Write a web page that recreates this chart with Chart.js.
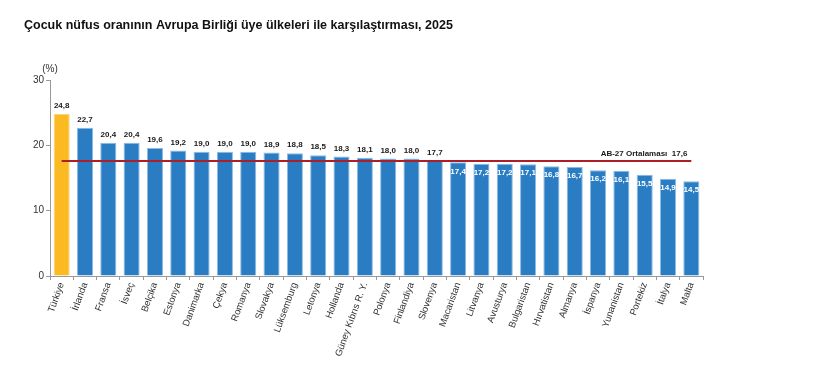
<!DOCTYPE html>
<html lang="tr">
<head>
<meta charset="utf-8">
<title>Çocuk nüfus oranı</title>
<script src="https://cdn.jsdelivr.net/npm/chart.js@4/dist/chart.umd.min.js"></script>
<style>
  html, body { margin: 0; padding: 0; background: #fff; }
  canvas { display: block; }
</style>
</head>
<body>
<canvas id="chart" width="838" height="372"></canvas>
<script>
// ülkeler ve çocuk nüfus oranları (%)
const countries = ['Türkiye', 'İrlanda', 'Fransa', 'İsveç', 'Belçika', 'Estonya', 'Danimarka', 'Çekya',
  'Romanya', 'Slovakya', 'Lüksemburg', 'Letonya', 'Hollanda', 'Güney Kıbrıs R. Y.', 'Polonya', 'Finlandiya',
  'Slovenya', 'Macaristan', 'Litvanya', 'Avusturya', 'Bulgaristan', 'Hırvatistan', 'Almanya', 'İspanya',
  'Yunanistan', 'Portekiz', 'İtalya', 'Malta'];
const shares = [24.8, 22.7, 20.4, 20.4, 19.6, 19.2, 19.0, 19.0, 19.0, 18.9, 18.8, 18.5, 18.3, 18.1, 18.0, 18.0,
  17.7, 17.4, 17.2, 17.2, 17.1, 16.8, 16.7, 16.2, 16.1, 15.5, 14.9, 14.5];
const euAverage = 17.6;
const averageLabel = 'AB-27 Ortalaması';
const yTicks = [0, 10, 20, 30];
const unitLabel = '(%)';

const FONT = '"Liberation Sans", Arial, sans-serif';
const BLUE = '#2a7dc3';
const ORANGE = '#fbb922';
const fmt = v => v.toFixed(1).replace('.', ',');

// ortalama çizgisi + değer etiketleri
const overlay = {
  id: 'overlay',
  afterDatasetsDraw(chart) {
    const { ctx, scales: { x, y }, chartArea } = chart;
    const meta = chart.getDatasetMeta(0);
    const yAvg = y.getPixelForValue(euAverage);
    const x0 = x.getPixelForValue(0);
    const x1 = x.getPixelForValue(countries.length - 1);
    ctx.save();
    ctx.strokeStyle = '#ad1f28';
    ctx.lineWidth = 2;
    ctx.beginPath();
    ctx.moveTo(x0, yAvg);
    ctx.lineTo(x1, yAvg);
    ctx.stroke();

    ctx.font = 'bold 8px ' + FONT;
    ctx.textAlign = 'center';
    ctx.textBaseline = 'middle';
    meta.data.forEach((bar, i) => {
      const v = shares[i];
      if (v > euAverage) {
        ctx.fillStyle = '#1a1a1a';
        ctx.fillText(fmt(v), bar.x, bar.y - 8);
      } else {
        ctx.fillStyle = '#fff';
        ctx.fillText(fmt(v), bar.x, bar.y + 9);
      }
    });

    ctx.fillStyle = '#1a1a1a';
    ctx.textAlign = 'right';
    ctx.textBaseline = 'alphabetic';
    ctx.fillText(averageLabel + '  ' + fmt(euAverage), x1 - 4, yAvg - 5);

    ctx.font = '10px ' + FONT;
    ctx.fillStyle = '#333';
    ctx.textAlign = 'center';
    ctx.textBaseline = 'middle';
    ctx.fillText(unitLabel, chartArea.left, chartArea.top - 11);
    ctx.restore();
  }
};

new Chart(document.getElementById('chart'), {
  type: 'bar',
  data: {
    labels: countries,
    datasets: [{
      data: shares,
      backgroundColor: countries.map((c, i) => i === 0 ? ORANGE : BLUE),
      borderColor: countries.map((c, i) => i === 0 ? '#fdd27a' : '#8bbbe4'),
      borderWidth: { top: 1, left: 1, right: 1, bottom: 0 },
      categoryPercentage: 1,
      barPercentage: 0.69
    }]
  },
  options: {
    responsive: false,
    animation: false,
    layout: { padding: { left: 24, right: 135, top: 0, bottom: 0 } },
    plugins: {
      legend: { display: false },
      tooltip: { enabled: false },
      title: {
        display: true,
        text: 'Çocuk nüfus oranının Avrupa Birliği üye ülkeleri ile karşılaştırması, 2025',
        align: 'start',
        color: '#111',
        font: { family: FONT, size: 12.5, weight: 'bold' },
        padding: { top: 18, bottom: 47 }
      }
    },
    scales: {
      x: {
        grid: { drawOnChartArea: false, tickLength: 4, color: '#999', offset: true },
        border: { color: '#999' },
        ticks: {
          color: '#333',
          font: { family: FONT, size: 9.5 },
          minRotation: 70,
          maxRotation: 70,
          padding: 1,
          autoSkip: false
        },
        afterFit(scale) { scale.height = 96; }
      },
      y: {
        min: 0,
        max: 30,
        afterBuildTicks(scale) { scale.ticks = yTicks.map(v => ({ value: v })); },
        grid: { drawOnChartArea: false, tickLength: 4, color: '#999' },
        border: { color: '#999' },
        ticks: { color: '#333', font: { family: FONT, size: 10 }, padding: 2 },
        afterFit(scale) { scale.width = 26; }
      }
    }
  },
  plugins: [overlay]
});
</script>
</body>
</html>
